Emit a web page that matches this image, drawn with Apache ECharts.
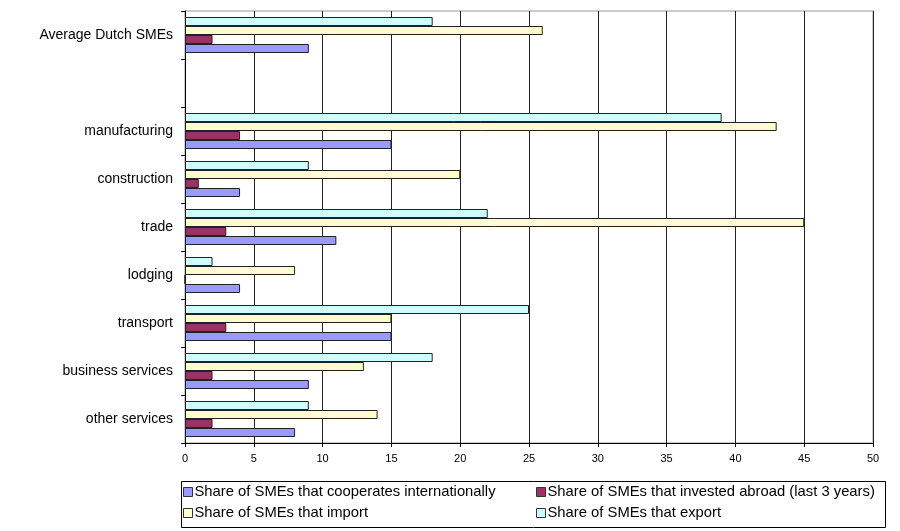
<!DOCTYPE html>
<html>
<head>
<meta charset="utf-8">
<script src="https://cdn.jsdelivr.net/npm/echarts@6/dist/echarts.min.js"></script>
<style>
  html, body { margin: 0; padding: 0; background: #fff; }
  #chart { width: 900px; height: 531px; }
</style>
</head>
<body>
<div id="chart"></div>
<script>
// Sectors, listed bottom to top (blank slot separates the overall average)
const sectors = ['other services', 'business services', 'transport', 'lodging', 'trade',
                 'construction', 'manufacturing', ' ', 'Average Dutch SMEs'];

// Shares in percent, same order as sectors
const cooperates = [8, 9, 15, 4, 11, 4, 15, null, 9];
const invested   = [2, 2, 3, 0, 3, 1, 4, null, 2];
const imports    = [14, 13, 15, 8, 45, 20, 43, null, 26];
const exports    = [9, 18, 25, 2, 22, 9, 39, null, 18];

const seriesNames = [
  'Share of SMEs that cooperates internationally',
  'Share of SMEs that invested abroad (last 3 years)',
  'Share of SMEs that import',
  'Share of SMEs that export'
];
const seriesColors = ['#9999FF', '#993366', '#FFFFCC', '#CCFFFF'];
const seriesValues = [cooperates, invested, imports, exports];

const xTicks = { min: 0, max: 50, interval: 5 };

const font = 'Liberation Sans, Arial, sans-serif';

const chart = echarts.init(document.getElementById('chart'), null, { renderer: 'canvas' });

// legend laid out as two rows of two entries
const legendSpots = [
  { left: 183, top: 484 },
  { left: 536, top: 484 },
  { left: 183, top: 505 },
  { left: 536, top: 505 }
];

// bars in each group stack top-down as export, import, invested, cooperates
const drawOrder = [3, 2, 1, 0];

chart.setOption({
  animation: false,
  backgroundColor: '#ffffff',
  grid: {
    left: 185, right: 27, top: 11, bottom: 88,
    show: true, borderColor: '#999', borderWidth: 1, backgroundColor: 'transparent'
  },
  xAxis: {
    type: 'value',
    min: xTicks.min, max: xTicks.max, interval: xTicks.interval,
    axisLine: { show: true, lineStyle: { color: '#000', width: 1 } },
    axisTick: { show: true, length: 4, lineStyle: { color: '#000' } },
    axisLabel: { color: '#000', fontFamily: font, fontSize: 11, margin: 10 },
    splitLine: { show: true, lineStyle: { color: '#222', width: 1 } }
  },
  yAxis: {
    type: 'category',
    data: sectors,
    axisLine: { show: true, lineStyle: { color: '#000', width: 1 } },
    axisTick: { show: true, length: 4, lineStyle: { color: '#000' } },
    axisLabel: { color: '#000', fontFamily: font, fontSize: 14, margin: 12 },
    splitLine: { show: false }
  },
  legend: seriesNames.map((n, i) => ({
    data: [n],
    left: legendSpots[i].left,
    top: legendSpots[i].top,
    orient: 'horizontal',
    icon: 'rect',
    itemWidth: 9,
    itemHeight: 9,
    itemGap: 4,
    padding: 0,
    selectedMode: false,
    textStyle: { color: '#000', fontFamily: font, fontSize: 14.8, lineHeight: 16, padding: [0, 0, 0, -3] },
    itemStyle: { borderColor: '#333', borderWidth: 1 }
  })),
  graphic: [{
    type: 'rect',
    left: 179, top: 479,
    shape: { width: 704, height: 46 },
    style: { fill: 'none', stroke: '#000', lineWidth: 1 },
    silent: true
  }],
  series: drawOrder.map(i => ({
    name: seriesNames[i],
    type: 'bar',
    data: seriesValues[i],
    barWidth: 9,
    barGap: '0%',
    itemStyle: { color: seriesColors[i], borderColor: '#222', borderWidth: 1 }
  }))
});
</script>
</body>
</html>
